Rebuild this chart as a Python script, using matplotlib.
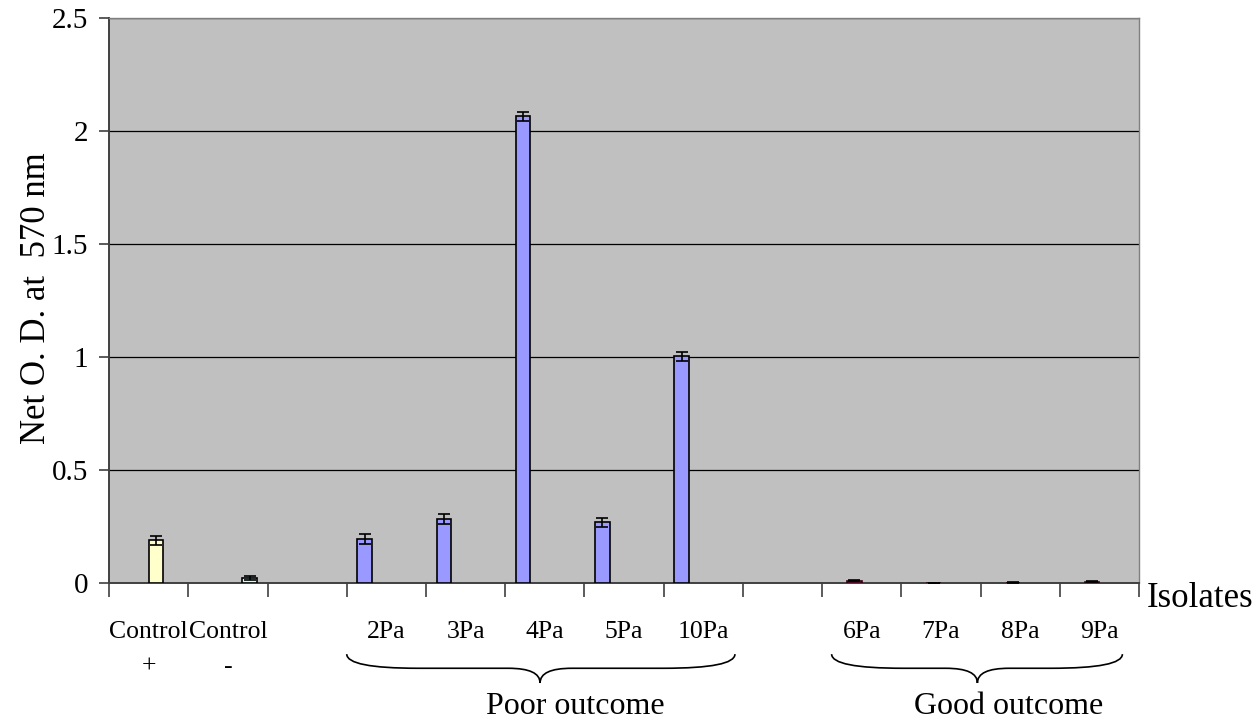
import numpy as np
import matplotlib.pyplot as plt
from matplotlib.path import Path
from matplotlib.patches import PathPatch
import matplotlib.transforms as mtransforms

plt.rcParams['font.family'] = ['Liberation Serif', 'DejaVu Serif']

# categories along the x axis (blank slots separate the groups)
categories = ["Control\n+", "Control\n-", "", "2Pa", "3Pa", "4Pa", "5Pa", "10Pa",
              "", "6Pa", "7Pa", "8Pa", "9Pa"]

nan = np.nan
# net O.D. per series, one entry per category slot
poor_od = [nan, nan, nan, 0.197, 0.285, 2.065, 0.270, 1.005, nan, nan, nan, nan, nan]
poor_err = [nan, nan, nan, 0.022, 0.020, 0.020, 0.020, 0.020, nan, nan, nan, nan, nan]
good_od = [nan, nan, nan, nan, nan, nan, nan, nan, nan, 0.012, 0.003, 0.004, 0.007]
good_err = [nan, nan, nan, nan, nan, nan, nan, nan, nan, 0.002, 0.001, 0.001, 0.002]
ctrl_pos_od = [0.192, nan, nan, nan, nan, nan, nan, nan, nan, nan, nan, nan, nan]
ctrl_pos_err = [0.020, nan, nan, nan, nan, nan, nan, nan, nan, nan, nan, nan, nan]
ctrl_neg_od = [nan, 0.025, nan, nan, nan, nan, nan, nan, nan, nan, nan, nan, nan]
ctrl_neg_err = [nan, 0.009, nan, nan, nan, nan, nan, nan, nan, nan, nan, nan, nan]

# group name, brace start/end, brace tip, label centre (x in category units)
groups = [("Poor outcome", 2.5, 7.4, 4.94, 5.38),
          ("Good outcome", 8.62, 12.29, 10.46, 10.86)]

fig = plt.figure(figsize=(12.55, 7.23), dpi=100)
ax = fig.add_axes([0.0869, 0.193, 0.8207, 0.782])
ax.set_facecolor('#C0C0C0')

x = np.arange(len(categories))
w = 0.183
series = [(poor_od, poor_err, '#9999FF', '#000000', -1.5),
          (good_od, good_err, '#CC3377', '#330011', -0.5),
          (ctrl_pos_od, ctrl_pos_err, '#FFFFCC', '#000000', 0.5),
          (ctrl_neg_od, ctrl_neg_err, '#CCFFFF', '#000000', 1.5)]
for vals, errs, col, edge, off in series:
    vals = np.array(vals)
    errs = np.array(errs)
    m = ~np.isnan(vals)
    ax.bar(x[m] + off * w, vals[m], width=w, color=col, edgecolor=edge,
           linewidth=1.2, zorder=3)
    ax.errorbar(x[m] + off * w, vals[m], yerr=errs[m], fmt='none',
                ecolor='black', elinewidth=1.2, capsize=4.5, capthick=1.2, zorder=4)

ax.set_xlim(-0.5, len(categories) - 0.5)
ax.set_ylim(0, 2.5)
ax.set_yticks(np.arange(0, 2.51, 0.5))
ax.set_yticklabels(['0', '0.5', '1', '1.5', '2', '2.5'])
ax.yaxis.grid(True, color='black', linewidth=0.9, zorder=1)
ax.set_axisbelow(True)

ax.set_xticks(x)
ax.set_xticklabels(categories, linespacing=1.75)
ax.set_xticks(np.arange(-0.5, len(categories)), minor=True)
ax.tick_params(axis='x', which='major', length=0, pad=27, labelsize=18.5)
ax.tick_params(axis='x', which='minor', length=10, width=1.2, color='#404040')
ax.tick_params(axis='y', length=7, width=1.2, color='#404040', labelsize=21, pad=8)

for s in ['left', 'bottom']:
    ax.spines[s].set_color('#404040')
    ax.spines[s].set_linewidth(1.4)
for s in ['top', 'right']:
    ax.spines[s].set_color('#808080')
    ax.spines[s].set_linewidth(1.0)

ax.set_ylabel("Net O. D. at  570 nm", fontsize=25)
ax.yaxis.set_label_coords(-0.054, 0.505)

# curly braces under the outcome groups
trans = mtransforms.blended_transform_factory(ax.transData, ax.transAxes)
y_top, y_mid, y_bot = -0.125, -0.150, -0.176
for name, x0, x1, xm, xt in groups:
    d = 0.9
    verts = [(x0, y_top), (x0, y_mid), (x0 + d, y_mid),
             (xm - 0.4, y_mid),
             (xm, y_mid), (xm, y_bot),
             (xm, y_mid), (xm + 0.4, y_mid),
             (x1 - d, y_mid),
             (x1, y_mid), (x1, y_top)]
    codes = [Path.MOVETO, Path.CURVE3, Path.CURVE3,
             Path.LINETO,
             Path.CURVE3, Path.CURVE3,
             Path.CURVE3, Path.CURVE3,
             Path.LINETO,
             Path.CURVE3, Path.CURVE3]
    ax.add_patch(PathPatch(Path(verts, codes), transform=trans, fill=False,
                           edgecolor='black', linewidth=1.2, clip_on=False))
    ax.text(xt, -0.218, name, transform=trans, ha='center', va='center',
            fontsize=23)

ax.text(12.6, -0.026, "Isolates", transform=trans, ha='left', va='center',
        fontsize=25)

fig.savefig('out.png', dpi=100)
